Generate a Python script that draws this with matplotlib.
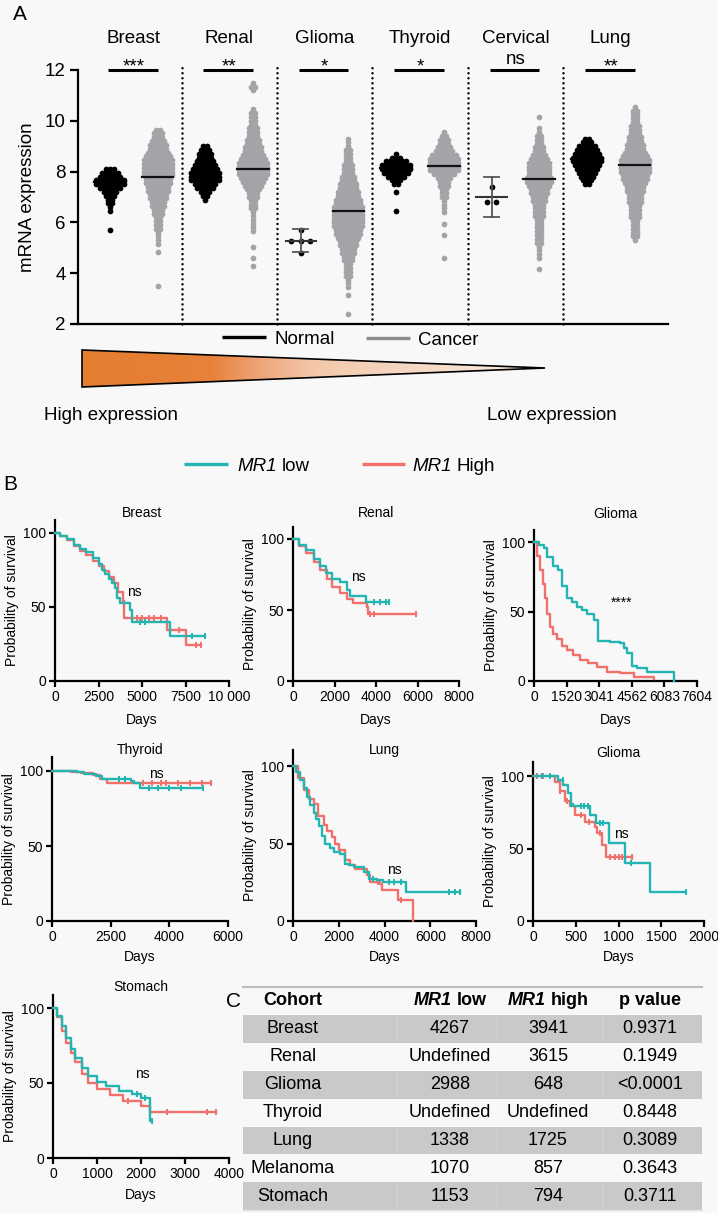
import numpy as np
import matplotlib
matplotlib.use("Agg")
import matplotlib.pyplot as plt
from matplotlib.colors import LinearSegmentedColormap
from matplotlib.patches import Polygon, Rectangle

plt.rcParams["font.family"] = ["Liberation Sans", "DejaVu Sans"]

W, H = 718, 1213
BG = "#f8f8f8"
TEAL = "#22b5b2"
SALMON = "#f0716b"
GREY_DOT = "#a4a4a8"

# ---------------- panel A data (row counts of the swarm, bottom to top) ----------------
CANCERS = ["Breast", "Renal", "Glioma", "Thyroid", "Cervical", "Lung"]
SIGNIF = ["***", "**", "*", "*", "ns", "**"]
STEP = 0.15

breast_normal = (5.70, [1, 0, 0, 0, 0, 1, 1, 2, 2, 3, 4, 6, 8, 8, 6, 5, 3])
breast_cancer = (3.50, [1, 0, 0, 0, 0, 0, 0, 0, 0, 1, 0, 1, 1, 1, 1, 2, 2, 2, 2, 3, 3,
                        4, 4, 5, 5, 6, 6, 7, 7, 8, 8, 8, 8, 8, 7, 6, 5, 5, 4, 3, 3, 2])
renal_normal = (6.90, [1, 2, 3, 5, 6, 8, 8, 8, 7, 6, 5, 4, 4, 3, 2])
renal_cancer = (4.30, [1, 0, 1, 0, 0, 1, 0, 0, 0, 1, 1, 1, 1, 1, 1, 2, 2, 2, 3, 3, 4, 5,
                       6, 7, 8, 8, 8, 8, 7, 6, 5, 5, 4, 4, 3, 3, 3, 2, 2, 2, 2, 1, 0, 0,
                       0, 0, 1, 2, 1])
glioma_normal = (4.80, [1, 0, 0, 3, 0, 0, 1])
glioma_cancer = (2.40, [1, 0, 0, 0, 0, 1, 0, 1, 1, 1, 2, 2, 2, 2, 3, 3, 4, 4, 5, 5, 6, 7,
                        7, 8, 8, 8, 8, 8, 8, 7, 7, 6, 6, 5, 5, 4, 4, 3, 3, 3, 2, 2, 2, 2,
                        1, 1, 1])
thyroid_normal = (6.45, [1, 0, 0, 0, 0, 1, 0, 2, 3, 5, 7, 8, 8, 6, 3, 1])
thyroid_cancer = (4.60, [1, 0, 0, 0, 0, 0, 1, 0, 0, 1, 0, 0, 1, 1, 1, 1, 2, 2, 2, 3, 3,
                         4, 6, 8, 8, 8, 8, 7, 5, 4, 3, 3, 2, 1])
cervical_normal = (6.80, [2, 0, 0, 0, 1])
cervical_cancer = (4.15, [1, 0, 0, 1, 1, 1, 1, 2, 2, 2, 2, 2, 2, 2, 3, 3, 3, 3, 4, 4, 5,
                          5, 6, 7, 7, 6, 6, 6, 6, 5, 4, 3, 3, 2, 2, 2, 1, 1, 0, 0, 1])
lung_normal = (7.50, [2, 3, 4, 5, 6, 7, 8, 8, 7, 6, 5, 3, 2])
lung_cancer = (5.30, [1, 2, 2, 2, 2, 2, 3, 3, 3, 3, 4, 4, 4, 5, 5, 6, 7, 7, 8, 8, 8, 8,
                      7, 6, 5, 5, 4, 4, 3, 3, 3, 2, 2, 2, 2, 1])

NORMAL = [breast_normal, renal_normal, glioma_normal, thyroid_normal, cervical_normal, lung_normal]
CANCER = [breast_cancer, renal_cancer, glioma_cancer, thyroid_cancer, cervical_cancer, lung_cancer]
NORMAL_MEDIAN = [7.60, 7.95, None, 8.15, None, 8.50]
CANCER_MEDIAN = [7.78, 8.12, 6.45, 8.24, 7.72, 8.25]
# the two small normal groups are shown as mean +/- SD
SMALL_MEAN = {2: 5.28, 4: 7.00}
SMALL_SD = {2: 0.46, 4: 0.79}

# ---------------- panel B data: Kaplan-Meier steps (days, % survival) ----------------
breast_low_t = [0, 300, 700, 1100, 1450, 1800, 2200, 2500, 2700, 2900, 3100, 3300, 3450,
                3550, 3750, 4300, 4450, 6600, 8600]
breast_low_s = [100, 98, 96, 92, 89, 87, 83, 79, 75, 72, 69, 66, 63, 56, 52.5, 48, 40, 30.3, 30.3]
breast_low_c = [4900, 5200, 7900, 8600]
breast_high_t = [0, 300, 700, 1100, 1450, 1800, 2200, 2500, 2800, 3100, 3400, 3600, 3900,
                 3970, 6450, 7500, 8400]
breast_high_s = [100, 98, 95, 91, 88, 85, 81, 78, 74, 70, 66, 60, 54, 42.5, 34.4, 24.2, 24.2]
breast_high_c = [4700, 5000, 5400, 5700, 6100, 7100, 8100, 8400]

renal_low_t = [0, 300, 650, 1000, 1300, 1600, 1900, 2250, 2600, 2750, 3520, 4650]
renal_low_s = [100, 96, 92, 86, 81, 76, 72, 70, 64, 59.8, 55.8, 55.8]
renal_low_c = [3900, 4200, 4500, 4650]
renal_high_t = [0, 300, 650, 1000, 1300, 1650, 1900, 2250, 2600, 2900, 3550, 3600, 5950]
renal_high_s = [100, 95, 90, 84, 78, 72, 66, 62, 58, 54.6, 52.2, 47.5, 47.5]
renal_high_c = [3700, 3900, 5950]

glioma_low_t = [0, 250, 450, 600, 900, 1140, 1300, 1530, 1750, 2000, 2250, 2460, 2780,
                3000, 3550, 4020, 4200, 4330, 4570, 4800, 5270, 6513]
glioma_low_s = [100, 98, 96, 89, 83, 80, 68, 60, 57, 53, 51, 48, 44, 29, 28, 27, 24, 20,
                11, 9, 6.5, 0]
glioma_low_c = []
glioma_high_t = [0, 150, 280, 400, 514, 620, 748, 900, 1060, 1300, 1527, 1800, 2150, 2500,
                 2929, 3397, 4020, 4644, 5579]
glioma_high_s = [100, 90, 80, 70, 60, 48, 39, 34, 30.5, 25, 22, 19, 15, 13, 10, 6.5, 5.8,
                 2.9, 1.7]
glioma_high_c = []

thyroid_low_t = [0, 850, 1100, 1500, 1700, 2700, 2780, 3000, 5150]
thyroid_low_s = [100, 99.3, 98, 97, 94.5, 93.5, 92, 89, 89]
thyroid_low_c = [2300, 2500, 3300, 3600, 4000, 4400, 5150]
thyroid_high_t = [0, 650, 1000, 1400, 1650, 1870, 5434]
thyroid_high_s = [100, 99.5, 99, 97.3, 95, 91.8, 91.8]
thyroid_high_c = [3100, 3400, 3700, 3900, 4300, 4700, 5100, 5434]

lung_low_t = [0, 150, 320, 460, 611, 760, 902, 1000, 1120, 1250, 1411, 1600, 1775, 2065,
              2284, 2450, 2647, 3084, 3302, 3665, 3956, 4920, 7300]
lung_low_s = [100, 96, 91, 86, 80, 75, 70, 66, 61, 55, 50, 47, 44.5, 43, 37, 36, 34.8,
              31.6, 27.3, 26.2, 25.2, 18.7, 18.7]
lung_low_c = [3500, 4200, 4400, 4700, 6800, 7100, 7300]
lung_high_t = [0, 200, 465, 700, 902, 1100, 1338, 1500, 1702, 1850, 1993, 2284, 2500, 2720,
               3229, 3374, 3810, 3884, 4582, 5265]
lung_high_s = [100, 92, 84.3, 79, 75.7, 68, 61.7, 58, 54.2, 50, 45.6, 39.1, 36, 33.8, 29.5,
               25.2, 24.1, 20.2, 13.3, 0]
lung_high_c = [3700, 4700]

glioma2_low_t = [0, 234, 292, 351, 409, 448, 468, 663, 733, 885, 1080, 1365, 1786]
glioma2_low_s = [100, 100, 97, 94, 88, 81, 79, 73, 67.3, 53.5, 40.3, 20, 20]
glioma2_low_c = [100, 200, 350, 450, 560, 600, 640, 780, 820, 1150, 1786]
glioma2_high_t = [0, 195, 253, 312, 370, 429, 487, 604, 721, 749, 811, 858, 1160]
glioma2_high_s = [100, 100, 96, 90, 83, 79, 73, 68.4, 65, 60.4, 52.3, 43.8, 43.8]
glioma2_high_c = [50, 120, 320, 400, 560, 650, 780, 900, 960, 1000, 1040, 1160]

stomach_low_t = [0, 100, 200, 300, 400, 500, 650, 800, 1000, 1200, 1500, 1800, 2000, 2200, 2250]
stomach_low_s = [100, 95, 88, 80, 73, 67, 60, 55, 51, 48, 45, 43, 40, 25, 25]
stomach_low_c = [1900, 2100, 2250]
stomach_high_t = [0, 100, 200, 300, 400, 500, 650, 800, 1000, 1300, 1600, 2000, 2200, 3700]
stomach_high_s = [100, 94, 85, 77, 70, 64, 56, 50, 46, 42, 38, 35, 31, 31]
stomach_high_c = [1700, 2600, 3500, 3700]

# ---------------- panel C data ----------------
COHORTS = ["Breast", "Renal", "Glioma", "Thyroid", "Lung", "Melanoma", "Stomach"]
MEDIAN_LOW = ["4267", "Undefined", "2988", "Undefined", "1338", "1070", "1153"]
MEDIAN_HIGH = ["3941", "3615", "648", "Undefined", "1725", "857", "794"]
P_VALUES = ["0.9371", "0.1949", "<0.0001", "0.8448", "0.3089", "0.3643", "0.3711"]


def px_axes(fig, left, top, right, bottom):
    return fig.add_axes([left / W, 1 - bottom / H, (right - left) / W, (bottom - top) / H])


def swarm_points(pos, start, counts, dx):
    xs, ys = [], []
    for i, c in enumerate(counts):
        if c == 0:
            continue
        off = (np.arange(c) - (c - 1) / 2) * dx
        xs.extend(pos + off)
        ys.extend([start + i * STEP] * c)
    return np.array(xs), np.array(ys)


def step_value(t, s, x):
    idx = np.searchsorted(t, x, side="right") - 1
    return np.asarray(s)[idx]


fig = plt.figure(figsize=(W / 100, H / 100), dpi=100, facecolor=BG)
renderer = fig.canvas.get_renderer()

# overlay in pixel coordinates for free-standing decorations
ov = fig.add_axes([0, 0, 1, 1], zorder=-1)
ov.set_xlim(0, W)
ov.set_ylim(H, 0)
ov.axis("off")
ov.set_facecolor("none")


def mixed_text(x, y, parts, ha="left", va="baseline", size=13.5, gap=5.0, zorder=3):
    # "MR1" italic followed by upright text, laid out side by side in pixel units
    texts = [ov.text(x, y, s, va=va, ha="left", fontsize=size, zorder=zorder, **st)
             for s, st in parts]
    widths = [t.get_window_extent(renderer).width for t in texts]
    total = sum(widths) + gap * (len(texts) - 1)
    cur = x - total / 2 if ha == "center" else x
    for t, w in zip(texts, widths):
        t.set_x(cur)
        cur += w + gap


# ---------------- panel A ----------------
axa = px_axes(fig, 78, 70, 668, 324)
axa.set_facecolor("none")
axa.set_xlim(-0.671, 11.70)
axa.set_ylim(2, 12)
for side in ["top", "right"]:
    axa.spines[side].set_visible(False)
for side in ["left", "bottom"]:
    axa.spines[side].set_linewidth(1.6)
axa.set_xticks([])
axa.set_yticks([2, 4, 6, 8, 10, 12])
axa.tick_params(axis="y", length=6, width=1.6, labelsize=13.5, pad=3)
axa.set_ylabel("mRNA expression", fontsize=13.5, labelpad=6)

for k in range(len(CANCERS)):
    pn, pc = 2 * k, 2 * k + 1
    if k < len(CANCERS) - 1:
        axa.plot([pc + 0.5, pc + 0.5], [2, 12.1], color="black", lw=1.8,
                 ls=(0, (0.01, 2.0)), dash_capstyle="round", clip_on=False, zorder=1)
    small = k in SMALL_MEAN
    xs, ys = swarm_points(pn, NORMAL[k][0], NORMAL[k][1], 0.2 if small else 0.084)
    axa.scatter(xs, ys, s=17, color="black", lw=0, zorder=3)
    xs, ys = swarm_points(pc, CANCER[k][0], CANCER[k][1], 0.084)
    axa.scatter(xs, ys, s=17, color=GREY_DOT, lw=0, zorder=3)
    axa.plot([pc - 0.33, pc + 0.33], [CANCER_MEDIAN[k]] * 2, color="#111111", lw=1.6, zorder=4)
    if small:
        m, sd = SMALL_MEAN[k], SMALL_SD[k]
        axa.plot([pn - 0.32, pn + 0.32], [m, m], color="#333333", lw=1.5, zorder=4)
        axa.plot([pn, pn], [m - sd, m + sd], color="#555555", lw=1.3, zorder=4)
        for yy in (m - sd, m + sd):
            axa.plot([pn - 0.16, pn + 0.16], [yy, yy], color="#555555", lw=1.3, zorder=4)
    else:
        axa.plot([pn - 0.33, pn + 0.33], [NORMAL_MEDIAN[k]] * 2, color="black", lw=1.6, zorder=4)
    # significance bar and cancer name
    axa.plot([pn - 0.04, pc + 0.0], [12, 12], color="black", lw=2.2, clip_on=False,
             solid_capstyle="butt")
    sig_y = 12.24 if SIGNIF[k] == "ns" else 11.93
    axa.text(pn + 0.5, sig_y, SIGNIF[k], ha="center", va="baseline", fontsize=13.5, clip_on=False)
    axa.text(pn + 0.5, 13.07, CANCERS[k], ha="center", va="baseline", fontsize=13.5, clip_on=False)

ov.text(13, 20, "A", fontsize=15, va="baseline", ha="left")
ov.plot([222, 266], [337, 337], color="black", lw=2.4, solid_capstyle="butt")
ov.text(275, 344, "Normal", fontsize=13.5, va="baseline")
ov.plot([366, 410], [338, 338], color="#8c8c8c", lw=2.4, solid_capstyle="butt")
ov.text(418, 345, "Cancer", fontsize=13.5, va="baseline")

# expression gradient wedge
tri_cmap = LinearSegmentedColormap.from_list(
    "wedge", [(0.0, "#e57d2f"), (0.28, "#e8823a"), (0.38, "#eda476"),
              (0.5, "#f3c8aa"), (0.75, "#f6dbc8"), (1.0, "#fbeee4")])
im = ov.imshow(np.linspace(0, 1, 256)[None, :], cmap=tri_cmap, aspect="auto",
               extent=(82, 545, 387, 350), zorder=1)
wedge = Polygon([(82, 350), (545, 368), (82, 387)], closed=True, fc="none",
                ec="black", lw=1.2, zorder=2)
ov.add_patch(wedge)
im.set_clip_path(wedge)
ov.text(44, 420, "High expression", fontsize=13.5, va="baseline")
ov.text(487, 420, "Low expression", fontsize=13.5, va="baseline")

# ---------------- panel B ----------------
ov.text(3, 490, "B", fontsize=15, va="baseline")
ov.plot([184, 228], [464, 464], color=TEAL, lw=2.4, solid_capstyle="butt")
mixed_text(237, 471, [("MR1", dict(style="italic")), ("low", {})])
ov.plot([362, 405], [464, 464], color=SALMON, lw=2.4, solid_capstyle="butt")
mixed_text(412, 471, [("MR1", dict(style="italic")), ("High", {})])

panels = [
    # name, (left, top, right, bottom, y100), xmax, ticks, labels, title_y, days_y, low, high, note
    ("Breast", (55, 520, 229, 681, 533), 10000, [0, 2500, 5000, 7500, 10000],
     ["0", "2500", "5000", "7500", "10 000"], 513, 720,
     (breast_low_t, breast_low_s, breast_low_c), (breast_high_t, breast_high_s, breast_high_c),
     ("ns", 4540, 60)),
    ("Renal", (293, 527, 459, 681, 539), 8000, [0, 2000, 4000, 6000, 8000],
     None, 513, 720,
     (renal_low_t, renal_low_s, renal_low_c), (renal_high_t, renal_high_s, renal_high_c),
     ("ns", 3133, 73)),
    ("Glioma", (534, 530, 697, 681, 542), 7604, [0, 1520, 3041, 4562, 6083, 7604],
     None, 514, 720,
     (glioma_low_t, glioma_low_s, glioma_low_c), (glioma_high_t, glioma_high_s, glioma_high_c),
     ("****", 4105, 56)),
    ("Thyroid", (52, 757, 228, 921, 771), 6000, [0, 2000, 4000, 6000],
     ["0", "2500", "4000", "6000"], 750, 957,
     (thyroid_low_t, thyroid_low_s, thyroid_low_c), (thyroid_high_t, thyroid_high_s, thyroid_high_c),
     ("ns", 3545, 98)),
    ("Lung", (293, 750, 476, 921, 766), 8000, [0, 2000, 4000, 6000, 8000],
     None, 750, 957,
     (lung_low_t, lung_low_s, lung_low_c), (lung_high_t, lung_high_s, lung_high_c),
     ("ns", 4415, 33)),
    ("Glioma", (533, 762, 704, 921, 776), 2000, [0, 500, 1000, 1500, 2000],
     None, 753, 957,
     (glioma2_low_t, glioma2_low_s, glioma2_low_c), (glioma2_high_t, glioma2_high_s, glioma2_high_c),
     ("ns", 1029, 60)),
    ("Stomach", (53, 995, 229, 1158, 1008), 4000, [0, 1000, 2000, 3000, 4000],
     None, 987, 1195,
     (stomach_low_t, stomach_low_s, stomach_low_c), (stomach_high_t, stomach_high_s, stomach_high_c),
     ("ns", 2022, 56)),
]

for name, (l, t, r, b, y100), xmax, ticks, labels, title_y, days_y, low, high, note in panels:
    ax = px_axes(fig, l, t, r, b)
    ax.set_facecolor("none")
    ax.set_xlim(0, xmax)
    ax.set_ylim(0, 100 * (b - t) / (b - y100))
    for side in ["top", "right"]:
        ax.spines[side].set_visible(False)
    for side in ["left", "bottom"]:
        ax.spines[side].set_linewidth(1.6)
    ax.set_xticks(ticks)
    if labels is not None:
        ax.set_xticklabels(labels)
    ax.set_yticks([0, 50, 100])
    ax.tick_params(length=4.5, width=1.6, labelsize=10, pad=2)
    for (tt, ss, cc), col in ((high, SALMON), (low, TEAL)):
        ax.step(tt, ss, where="post", color=col, lw=1.7, clip_on=False, zorder=3)
        if cc:
            ax.plot(cc, step_value(tt, ss, cc), ls="none", marker="|", ms=4, mew=1.4,
                    color=col, clip_on=False, zorder=3)
    txt, nx, ny = note
    ax.text(nx, ny, txt, ha="center", va="center", fontsize=10)
    cx = (l + r) / 2
    ov.text(cx, title_y, name, ha="center", va="center", fontsize=10)
    ov.text(cx, days_y, "Days", ha="center", va="center", fontsize=10)
    ov.text(l - 43, (t + b) / 2, "Probability of survival", ha="center", va="center",
            rotation=90, fontsize=10)

# ---------------- panel C ----------------
ov.text(226, 1007, "C", fontsize=15, va="baseline")
tab_l, tab_r, tab_top, row_h = 243, 702, 987, 27.9
col_x = [293, 450, 548, 650]
for i in range(len(COHORTS)):
    y0 = tab_top + (i + 1) * row_h
    if i % 2 == 0:
        ov.add_patch(Rectangle((tab_l, y0), tab_r - tab_l, row_h, fc="#c9c9c9", ec="none", zorder=1))
        for xs in (397, 497, 602):
            ov.plot([xs, xs], [y0 + 1, y0 + row_h - 1], color="#d4d4d4", lw=0.8, zorder=1.5)
    row = [COHORTS[i], MEDIAN_LOW[i], MEDIAN_HIGH[i], P_VALUES[i]]
    for x, val in zip(col_x, row):
        ov.text(x, y0 + row_h / 2, val, ha="center", va="center", fontsize=13, zorder=3)
ov.plot([tab_l, tab_r], [tab_top, tab_top], color="#bdbdbd", lw=1.5, zorder=2)
ov.plot([tab_l, tab_r], [tab_top + 8 * row_h, tab_top + 8 * row_h], color="#e2e2e2", lw=1.0, zorder=2)
hy = tab_top + row_h / 2
ov.text(col_x[0], hy, "Cohort", ha="center", va="center", fontsize=13, fontweight="bold", zorder=3)
mixed_text(col_x[1], hy, [("MR1", dict(style="italic", fontweight="bold")),
                          ("low", dict(fontweight="bold"))], ha="center", va="center", size=13)
mixed_text(col_x[2], hy, [("MR1", dict(style="italic", fontweight="bold")),
                          ("high", dict(fontweight="bold"))], ha="center", va="center", size=13)
ov.text(col_x[3], hy, "p value", ha="center", va="center", fontsize=13, fontweight="bold", zorder=3)

fig.savefig("out.png", dpi=100, facecolor=BG)
